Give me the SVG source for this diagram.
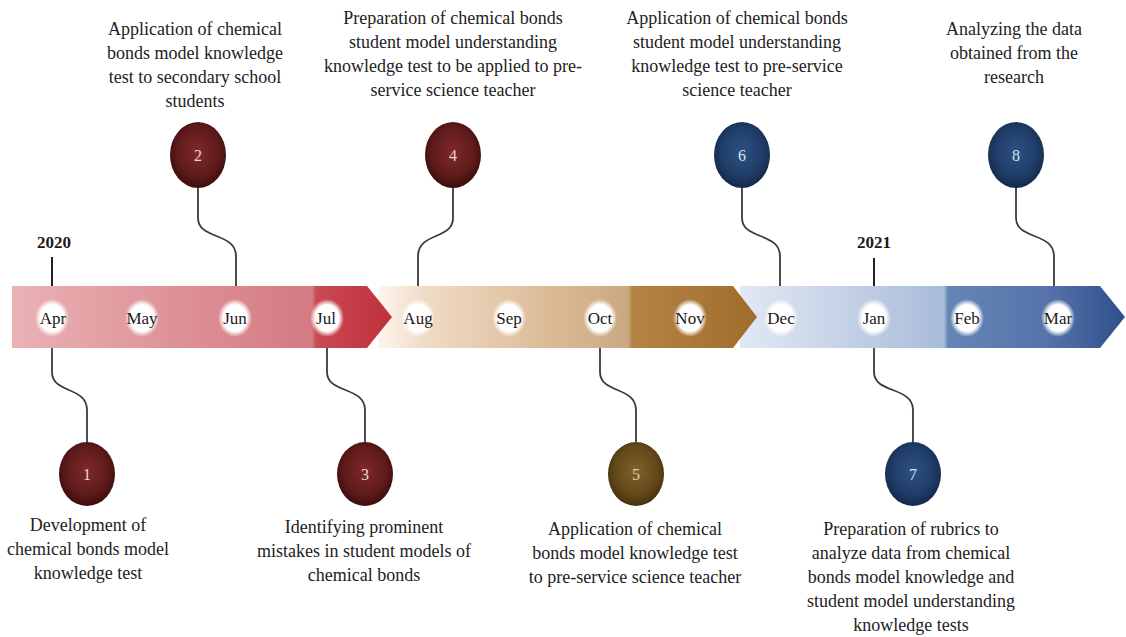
<svg xmlns="http://www.w3.org/2000/svg" width="1126" height="637" viewBox="0 0 1126 637">
<defs>
<style>
text{font-family:'Liberation Serif','DejaVu Serif',serif}
.t{font-size:18px;fill:#222;text-anchor:middle}
.m{font-size:17px;fill:#1a1a1a;text-anchor:middle}
.y{font-size:17px;font-weight:bold;fill:#1a1a1a;text-anchor:middle}
.n{font-size:16px;text-anchor:middle}
.c{fill:none;stroke:#3a3a3a;stroke-width:1.8}
.tick{stroke:#222;stroke-width:2}
</style>
<linearGradient id="g1" x1="0" x2="1" y1="0" y2="0">
<stop offset="0" stop-color="#eab2b5"/>
<stop offset="0.45" stop-color="#dd9096"/>
<stop offset="0.79" stop-color="#d47a82"/>
<stop offset="0.80" stop-color="#ca4a55"/>
<stop offset="1" stop-color="#c0303c"/>
</linearGradient>
<linearGradient id="g2" x1="0" x2="1" y1="0" y2="0">
<stop offset="0" stop-color="#fdf6ee"/>
<stop offset="0.12" stop-color="#f0dcc6"/>
<stop offset="0.45" stop-color="#dbbb96"/>
<stop offset="0.66" stop-color="#caa882"/>
<stop offset="0.67" stop-color="#b58444"/>
<stop offset="1" stop-color="#9f6c2c"/>
</linearGradient>
<linearGradient id="g3" x1="0" x2="1" y1="0" y2="0">
<stop offset="0" stop-color="#e2e8f4"/>
<stop offset="0.35" stop-color="#bccbe2"/>
<stop offset="0.53" stop-color="#a8bcd8"/>
<stop offset="0.54" stop-color="#6585b6"/>
<stop offset="0.8" stop-color="#5573aa"/>
<stop offset="1" stop-color="#2f4f8c"/>
</linearGradient>
<radialGradient id="wm" cx="0.5" cy="0.5" r="0.5">
<stop offset="0" stop-color="#ffffff"/>
<stop offset="0.7" stop-color="#ffffff"/>
<stop offset="1" stop-color="#ffffff" stop-opacity="0"/>
</radialGradient>
<radialGradient id="red" cx="0.5" cy="0.45" r="0.55">
<stop offset="0" stop-color="#7e2a2a"/>
<stop offset="0.7" stop-color="#5e1a1a"/>
<stop offset="1" stop-color="#3e0c0c"/>
</radialGradient>
<radialGradient id="olv" cx="0.5" cy="0.45" r="0.55">
<stop offset="0" stop-color="#7d6228"/>
<stop offset="0.7" stop-color="#63491a"/>
<stop offset="1" stop-color="#45300c"/>
</radialGradient>
<radialGradient id="blu" cx="0.5" cy="0.45" r="0.55">
<stop offset="0" stop-color="#2e5182"/>
<stop offset="0.7" stop-color="#1f3c66"/>
<stop offset="1" stop-color="#132848"/>
</radialGradient>
</defs>
<rect width="1126" height="637" fill="#ffffff"/>

<g id="band">
<polygon points="740,286 1100,286 1125,317 1100,348 740,348" fill="url(#g3)"/>
<polygon points="378,286 733,286 757,317 733,348 378,348" fill="url(#g2)"/>
<polygon points="12,286 367,286 392,317 367,348 12,348" fill="url(#g1)"/>
</g>

<g id="months">
<ellipse cx="52" cy="318" rx="17" ry="19" fill="url(#wm)"/>
<ellipse cx="142" cy="318" rx="17" ry="19" fill="url(#wm)"/>
<ellipse cx="235" cy="318" rx="17" ry="19" fill="url(#wm)"/>
<ellipse cx="327" cy="318" rx="17" ry="19" fill="url(#wm)"/>
<ellipse cx="418" cy="318" rx="17" ry="19" fill="url(#wm)"/>
<ellipse cx="509" cy="318" rx="17" ry="19" fill="url(#wm)"/>
<ellipse cx="600" cy="318" rx="17" ry="19" fill="url(#wm)"/>
<ellipse cx="690" cy="318" rx="17" ry="19" fill="url(#wm)"/>
<ellipse cx="781" cy="318" rx="17" ry="19" fill="url(#wm)"/>
<ellipse cx="874" cy="318" rx="17" ry="19" fill="url(#wm)"/>
<ellipse cx="967" cy="318" rx="17" ry="19" fill="url(#wm)"/>
<ellipse cx="1058" cy="318" rx="17" ry="19" fill="url(#wm)"/>
<text class="m" x="53" y="324">Apr</text>
<text class="m" x="142" y="324">May</text>
<text class="m" x="235" y="324">Jun</text>
<text class="m" x="326" y="324">Jul</text>
<text class="m" x="418" y="324">Aug</text>
<text class="m" x="509" y="324">Sep</text>
<text class="m" x="600" y="324">Oct</text>
<text class="m" x="690" y="324">Nov</text>
<text class="m" x="781" y="324">Dec</text>
<text class="m" x="874" y="324">Jan</text>
<text class="m" x="967" y="324">Feb</text>
<text class="m" x="1058" y="324">Mar</text>
</g>

<g id="years">
<text class="y" x="54" y="248">2020</text>
<line class="tick" x1="52" y1="257" x2="52" y2="286"/>
<text class="y" x="874" y="248">2021</text>
<line class="tick" x1="874" y1="258" x2="874" y2="286"/>
</g>

<g id="connectors">
<path class="c" d="M52,348 V372 C52,394 87,386 87,410 V442"/>
<path class="c" d="M198,188 V218 C198,240 236,232 236,256 V286"/>
<path class="c" d="M327,348 V372 C327,394 365,386 365,410 V442"/>
<path class="c" d="M453,188 V218 C453,240 418,232 418,256 V286"/>
<path class="c" d="M600,348 V372 C600,394 636,386 636,410 V442"/>
<path class="c" d="M742,188 V218 C742,240 780,232 780,256 V286"/>
<path class="c" d="M874,348 V372 C874,394 913,386 913,410 V442"/>
<path class="c" d="M1016,188 V218 C1016,240 1054,232 1054,256 V286"/>
</g>

<g id="step1">
<ellipse cx="87" cy="474" rx="28" ry="32" fill="url(#red)"/>
<text class="n" x="87" y="480" fill="#f2d6cc">1</text>
<text class="t" x="88" y="531">Development of</text>
<text class="t" x="88" y="555">chemical bonds model</text>
<text class="t" x="88" y="579">knowledge test</text>
</g>

<g id="step2">
<ellipse cx="198" cy="155" rx="28" ry="33" fill="url(#red)"/>
<text class="n" x="198" y="161" fill="#f2d6cc">2</text>
<text class="t" x="195" y="35">Application of chemical</text>
<text class="t" x="195" y="59">bonds model knowledge</text>
<text class="t" x="195" y="83">test to secondary school</text>
<text class="t" x="195" y="107">students</text>
</g>

<g id="step3">
<ellipse cx="365" cy="474" rx="28" ry="32" fill="url(#red)"/>
<text class="n" x="365" y="480" fill="#f2d6cc">3</text>
<text class="t" x="364" y="533">Identifying prominent</text>
<text class="t" x="364" y="557">mistakes in student models of</text>
<text class="t" x="364" y="581">chemical bonds</text>
</g>

<g id="step4">
<ellipse cx="453" cy="155" rx="28" ry="33" fill="url(#red)"/>
<text class="n" x="453" y="161" fill="#f2d6cc">4</text>
<text class="t" x="453" y="24">Preparation of chemical bonds</text>
<text class="t" x="453" y="48">student model understanding</text>
<text class="t" x="453" y="72">knowledge test to be applied to pre-</text>
<text class="t" x="453" y="96">service science teacher</text>
</g>

<g id="step5">
<ellipse cx="636" cy="474" rx="28" ry="32" fill="url(#olv)"/>
<text class="n" x="636" y="480" fill="#f0c8b8">5</text>
<text class="t" x="635" y="535">Application of chemical</text>
<text class="t" x="635" y="559">bonds model knowledge test</text>
<text class="t" x="635" y="583">to pre-service science teacher</text>
</g>

<g id="step6">
<ellipse cx="742" cy="155" rx="28" ry="33" fill="url(#blu)"/>
<text class="n" x="742" y="161" fill="#d8e4f4">6</text>
<text class="t" x="737" y="24">Application of chemical bonds</text>
<text class="t" x="737" y="48">student model understanding</text>
<text class="t" x="737" y="72">knowledge test to pre-service</text>
<text class="t" x="737" y="96">science teacher</text>
</g>

<g id="step7">
<ellipse cx="913" cy="474" rx="28" ry="32" fill="url(#blu)"/>
<text class="n" x="913" y="480" fill="#d8e4f4">7</text>
<text class="t" x="911" y="535">Preparation of rubrics to</text>
<text class="t" x="911" y="559">analyze data from chemical</text>
<text class="t" x="911" y="583">bonds model knowledge and</text>
<text class="t" x="911" y="607">student model understanding</text>
<text class="t" x="911" y="631">knowledge tests</text>
</g>

<g id="step8">
<ellipse cx="1016" cy="155" rx="28" ry="33" fill="url(#blu)"/>
<text class="n" x="1016" y="161" fill="#d8e4f4">8</text>
<text class="t" x="1014" y="35">Analyzing the data</text>
<text class="t" x="1014" y="59">obtained from the</text>
<text class="t" x="1014" y="83">research</text>
</g>
</svg>
